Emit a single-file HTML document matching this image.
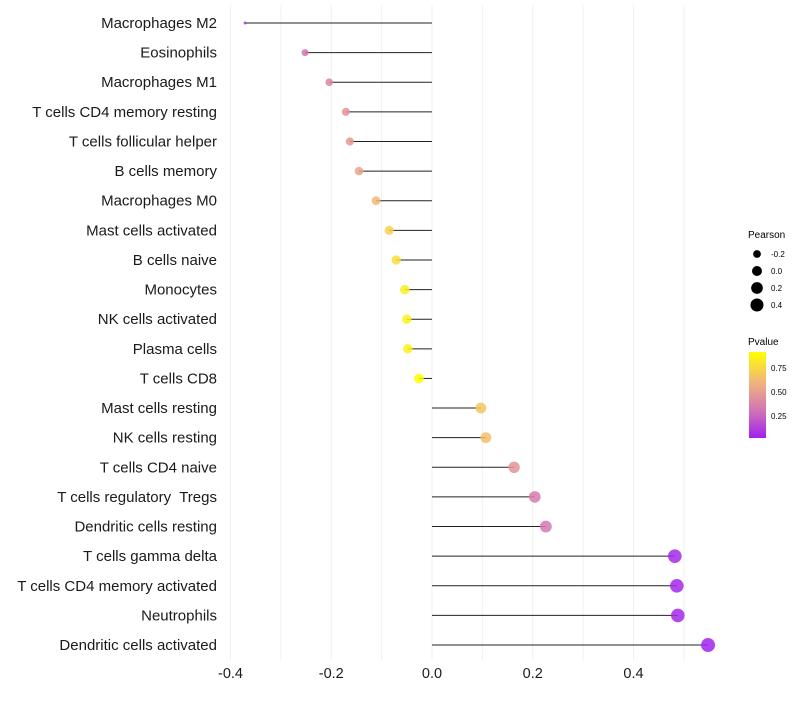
<!DOCTYPE html>
<html><head><meta charset="utf-8"><style>
body{margin:0;background:#fff;font-family:"Liberation Sans",sans-serif;}
svg text{font-family:"Liberation Sans",sans-serif;}
</style></head><body>
<svg id="c" width="800" height="700">
<defs><linearGradient id="pg" x1="0" y1="1" x2="0" y2="0">
<stop offset="0" stop-color="#a020f0"/><stop offset="0.3" stop-color="#cf70b8"/><stop offset="0.65" stop-color="#f2b47c"/><stop offset="1" stop-color="#ffff00"/></linearGradient></defs>
<g id="grid"></g><g id="marks"></g><g id="ylab"></g><g id="xlab"></g>
<g>
<text x="748" y="238" font-size="10">Pearson</text>
</g>
<g>
<text x="748" y="345" font-size="10">Pvalue</text>
<rect x="749" y="352" width="17" height="86" fill="url(#pg)"/>
<text x="771" y="371" font-size="8">0.75</text>
<text x="771" y="395" font-size="8">0.50</text>
<text x="771" y="419" font-size="8">0.25</text>
</g>
<g id="leg"></g>
</svg>
<script>
const cells=["Macrophages M2","Eosinophils","Macrophages M1","T cells CD4 memory resting","T cells follicular helper","B cells memory","Macrophages M0","Mast cells activated","B cells naive","Monocytes","NK cells activated","Plasma cells","T cells CD8","Mast cells resting","NK cells resting","T cells CD4 naive","T cells regulatory\u00a0 Tregs","Dendritic cells resting","T cells gamma delta","T cells CD4 memory activated","Neutrophils","Dendritic cells activated"];
const pearson=[-0.371,-0.252,-0.204,-0.171,-0.163,-0.145,-0.111,-0.085,-0.071,-0.054,-0.050,-0.048,-0.026,0.097,0.107,0.163,0.204,0.226,0.482,0.486,0.488,0.548];
const pvalue=[0.08,0.3,0.38,0.45,0.47,0.52,0.62,0.72,0.78,0.85,0.86,0.86,0.92,0.68,0.64,0.45,0.34,0.32,0.03,0.03,0.03,0.01];
const xticks=[-0.4,-0.2,0.0,0.2,0.4];
const legVals=[-0.2,0.0,0.2,0.4];
const NS="http://www.w3.org/2000/svg";
const X=v=>432+v*503.75, Y=i=>23+i*29.62;
const R=v=>1.5+5.5*Math.sqrt(Math.max(0,(v+0.371)/0.919));
function mk(t,a,p){const e=document.createElementNS(NS,t);for(const k in a)e.setAttribute(k,a[k]);document.getElementById(p).appendChild(e);return e;}
function lerp(a,b,t){return a.map((x,i)=>Math.round(x+(b[i]-x)*t));}
function col(p){const st=[[0,[160,32,240]],[0.28,[207,112,184]],[0.6,[242,180,124]],[0.92,[255,255,0]]];
 p=Math.min(0.92,Math.max(0,p));for(let i=1;i<st.length;i++){if(p<=st[i][0]){const t=(p-st[i-1][0])/(st[i][0]-st[i-1][0]);return "rgb("+lerp(st[i-1][1],st[i][1],t).join(",")+")";}}return "rgb(255,255,0)";}
for(let v=-0.4;v<=0.56;v+=0.1){const g=mk("line",{x1:X(v),x2:X(v),y1:5,y2:660,stroke:"#f0f0f0","stroke-width":1},"grid");
}
cells.forEach((c,i)=>{
 const l=mk("line",{x1:X(0),x2:X(pearson[i]),y1:Y(i),y2:Y(i),stroke:"#222","stroke-width":1},"marks");
 
 const d=mk("circle",{cx:X(pearson[i]),cy:Y(i),r:R(pearson[i]),fill:col(pvalue[i]),"fill-opacity":0.85},"marks");
 
 const t=mk("text",{x:217,y:Y(i)+5,"text-anchor":"end","font-size":15,fill:"#1a1a1a"},"ylab");t.textContent=c;
 
});
xticks.forEach(v=>{const t=mk("text",{x:X(v),y:678,"text-anchor":"middle","font-size":14.5,fill:"#1a1a1a"},"xlab");t.textContent=v.toFixed(1);
});
legVals.forEach((v,i)=>{const c=mk("circle",{cx:757,cy:254+i*17,r:R(v),fill:"#000"},"leg");

const t=mk("text",{x:771,y:257+i*17,"font-size":8},"leg");t.textContent=v.toFixed(1);
});
</script>
</body></html>
